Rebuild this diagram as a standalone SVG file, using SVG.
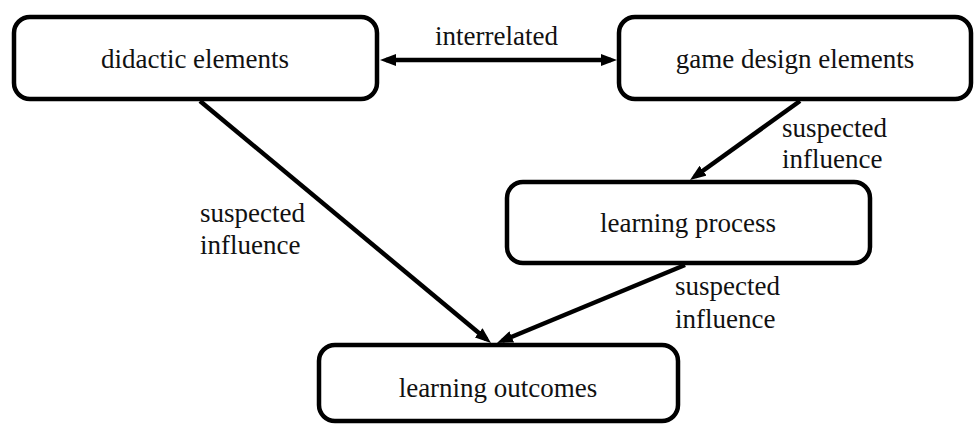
<svg xmlns="http://www.w3.org/2000/svg" width="974" height="426" viewBox="0 0 974 426">
<style>
.box{fill:#fff;stroke:#000;stroke-width:4.5}
text{font-family:Liberation Serif, Tinos, Times New Roman, DejaVu Serif, serif;font-size:27px;fill:#111}
.mid{text-anchor:middle}
.conn{stroke:#000;stroke-width:4.5;fill:none;marker-end:url(#ah)}
</style>
<defs>
<marker id="ah" markerUnits="userSpaceOnUse" markerWidth="16" markerHeight="12" refX="10" refY="6" orient="auto-start-reverse">
<path d="M0,0 L16,6 L0,12 z" fill="#000"/>
</marker>
</defs>
<rect width="974" height="426" fill="#fff"/>
<g id="connectors">
<line class="conn" x1="386" y1="60" x2="611" y2="60" marker-start="url(#ah)"/>
<line class="conn" x1="200" y1="101" x2="486.4" y2="339.2"/>
<line class="conn" x1="800" y1="101" x2="694.9" y2="176.5"/>
<line class="conn" x1="685" y1="265" x2="502.5" y2="340.7"/>
<text x="435" y="45">interrelated</text>
<text x="200" y="222">suspected</text>
<text x="200" y="254">influence</text>
<text x="782" y="137">suspected</text>
<text x="782" y="168">influence</text>
<text x="675" y="295">suspected</text>
<text x="675" y="328">influence</text>
</g>
<g id="didactic">
<rect class="box" x="14" y="17" width="363" height="82" rx="16"/>
<text class="mid" x="195" y="68">didactic elements</text>
</g>
<g id="game">
<rect class="box" x="619" y="17" width="352" height="82" rx="16"/>
<text class="mid" x="795" y="68">game design elements</text>
</g>
<g id="process">
<rect class="box" x="507" y="182" width="363" height="81" rx="16"/>
<text class="mid" x="688" y="232">learning process</text>
</g>
<g id="outcomes">
<rect class="box" x="319" y="345" width="359" height="76" rx="16"/>
<text class="mid" x="498" y="397">learning outcomes</text>
</g>
</svg>
